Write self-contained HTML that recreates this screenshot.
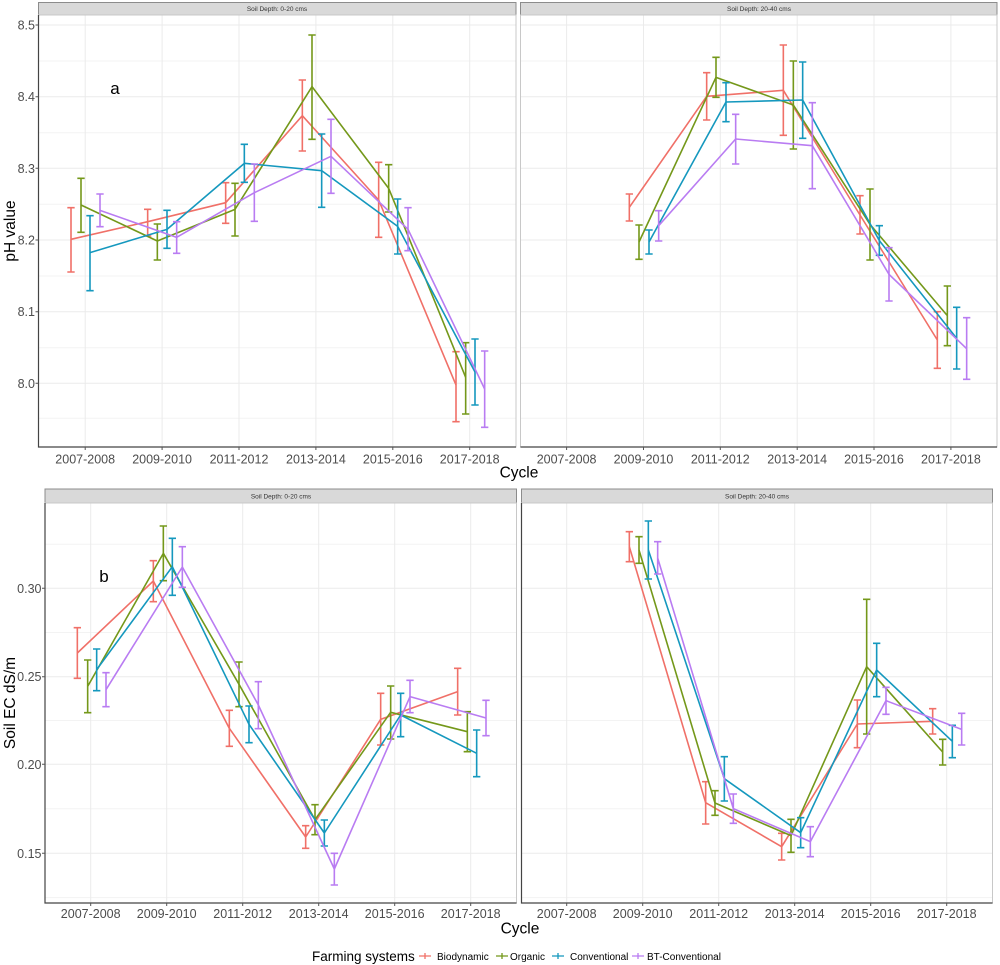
<!DOCTYPE html>
<html>
<head>
<meta charset="utf-8">
<style>
  html, body { margin:0; padding:0; background:#fff; }
  svg { display:block; }
  text { font-family: "Liberation Sans", "DejaVu Sans", sans-serif; }
</style>
</head>
<body>
<svg width="1000" height="965" viewBox="0 0 1000 965" xmlns="http://www.w3.org/2000/svg">
<rect x="0" y="0" width="1000" height="965" fill="#fff"/>

<!-- ================= TOP ROW ================= -->
<rect x="38.5" y="2.5" width="477.5" height="12.5" fill="#d9d9d9" stroke="#8c8c8c" stroke-width="1"/>
<rect x="520.5" y="2.5" width="476.5" height="12.5" fill="#d9d9d9" stroke="#8c8c8c" stroke-width="1"/>
<text x="277" y="11" font-size="6.5" fill="#333" text-anchor="middle">Soil Depth: 0-20 cms</text>
<text x="759" y="11" font-size="6.5" fill="#333" text-anchor="middle">Soil Depth: 20-40 cms</text>

<g stroke="#f3f3f3" stroke-width="1">
  <path d="M38.5 61H516M38.5 132.7H516M38.5 204.3H516M38.5 276H516M38.5 347.7H516M38.5 418.3H516"/>
  <path d="M520.5 61H997M520.5 132.7H997M520.5 204.3H997M520.5 276H997M520.5 347.7H997M520.5 418.3H997"/>
</g>
<g stroke="#ebebeb" stroke-width="1">
  <path d="M38.5 25H516M38.5 96.7H516M38.5 168.3H516M38.5 240H516M38.5 311.7H516M38.5 383.3H516"/>
  <path d="M520.5 25H997M520.5 96.7H997M520.5 168.3H997M520.5 240H997M520.5 311.7H997M520.5 383.3H997"/>
  <path d="M85.2 15V447M162.1 15V447M239 15V447M315.9 15V447M392.8 15V447M469.7 15V447"/>
  <path d="M566.6 15V447M643.5 15V447M720.3 15V447M797.2 15V447M874 15V447M950.9 15V447"/>
</g>
<rect x="38.5" y="15" width="477.5" height="432" fill="none" stroke="#c8c8c8" stroke-width="1"/>
<rect x="520.5" y="15" width="476.5" height="432" fill="none" stroke="#c8c8c8" stroke-width="1"/>
<path d="M38.5 15V447H516" fill="none" stroke="#444" stroke-width="1.2"/>
<path d="M520.5 447H997" fill="none" stroke="#444" stroke-width="1.2"/>

<g stroke="#555" stroke-width="1">
  <path d="M35.5 25H38.5M35.5 96.7H38.5M35.5 168.3H38.5M35.5 240H38.5M35.5 311.7H38.5M35.5 383.3H38.5"/>
  <path d="M85.2 447V450M162.1 447V450M239 447V450M315.9 447V450M392.8 447V450M469.7 447V450"/>
  <path d="M566.6 447V450M643.5 447V450M720.3 447V450M797.2 447V450M874 447V450M950.9 447V450"/>
</g>
<g font-size="12.5" fill="#4d4d4d" text-anchor="end">
  <text x="35" y="29.5">8.5</text>
  <text x="35" y="101.2">8.4</text>
  <text x="35" y="172.8">8.3</text>
  <text x="35" y="244.5">8.2</text>
  <text x="35" y="316.2">8.1</text>
  <text x="35" y="387.8">8.0</text>
</g>
<g font-size="12.5" fill="#4d4d4d" text-anchor="middle">
  <text x="85.2" y="463.5">2007-2008</text>
  <text x="162.1" y="463.5">2009-2010</text>
  <text x="239" y="463.5">2011-2012</text>
  <text x="315.9" y="463.5">2013-2014</text>
  <text x="392.8" y="463.5">2015-2016</text>
  <text x="469.7" y="463.5">2017-2018</text>
  <text x="566.6" y="463.5">2007-2008</text>
  <text x="643.5" y="463.5">2009-2010</text>
  <text x="720.3" y="463.5">2011-2012</text>
  <text x="797.2" y="463.5">2013-2014</text>
  <text x="874" y="463.5">2015-2016</text>
  <text x="950.9" y="463.5">2017-2018</text>
</g>
<text x="519" y="477.5" font-size="15.5" fill="#000" text-anchor="middle">Cycle</text>
<text transform="translate(15,231) rotate(-90)" font-size="15.5" fill="#000" text-anchor="middle">pH value</text>
<text x="115" y="94" font-size="17" fill="#000" text-anchor="middle">a</text>

<g transform="translate(40,20) scale(0.333333)" fill="none" stroke-width="4.8" stroke-linejoin="round">
  <g stroke="#F07068">
    <polyline points="93,658 323,605 557,548 787,287 1016,540 1248,1095"/>
    <path d="M82 563H104M93 563V756M82 756H104M312 568H334M323 568V648M312 648H334M546 488H568M557 488V610M546 610H568M776 180H798M787 180V393M776 393H798M1005 427H1027M1016 427V652M1005 652H1027M1237 995H1259M1248 995V1205M1237 1205H1259"/>
  </g>
  <g stroke="#74981A">
    <polyline points="123,555 352,663 585,568 816,200 1046,505 1277,1072"/>
    <path d="M112 475H134M123 475V637M112 637H134M341 612H363M352 612V720M341 720H363M574 490H596M585 490V648M574 648H596M805 45H827M816 45V358M805 358H827M1035 434H1057M1046 434V576M1035 576H1057M1266 968H1288M1277 968V1182M1266 1182H1288"/>
  </g>
  <g stroke="#1598BE">
    <polyline points="150,698 381,628 613,430 845,452 1073,619 1305,1056"/>
    <path d="M139 587H161M150 587V812M139 812H161M370 571H392M381 571V685M370 685H392M602 373H624M613 373V487M602 487H624M834 342H856M845 342V562M834 562H856M1062 537H1084M1073 537V702M1062 702H1084M1294 957H1316M1305 957V1155M1294 1155H1316"/>
  </g>
  <g stroke="#B97CF2">
    <polyline points="180,571 410,652 643,518 873,409 1104,628 1334,1107"/>
    <path d="M169 522H191M180 522V620M169 620H191M399 605H421M410 605V700M399 700H421M632 432H654M643 432V604M632 604H654M862 298H884M873 298V520M862 520H884M1093 563H1115M1104 563V692M1093 692H1115M1323 993H1345M1334 993V1222M1323 1222H1345"/>
  </g>
</g>

<g transform="translate(520,20) scale(0.333333)" fill="none" stroke-width="4.8" stroke-linejoin="round">
  <g stroke="#F07068">
    <polyline points="328,562 560,229 790,211 1020,585 1252,960"/>
    <path d="M317 522H339M328 522V603M317 603H339M549 158H571M560 158V300M549 300H571M779 75H801M790 75V346M779 346H801M1009 527H1031M1020 527V642M1009 642H1031M1241 875H1263M1252 875V1045M1241 1045H1263"/>
  </g>
  <g stroke="#74981A">
    <polyline points="357,666 588,172 820,255 1050,613 1282,887"/>
    <path d="M346 615H368M357 615V718M346 718H368M577 112H599M588 112V232M577 232H599M809 123H831M820 123V387M809 387H831M1039 507H1061M1050 507V720M1039 720H1061M1271 798H1293M1282 798V977M1271 977H1293"/>
  </g>
  <g stroke="#1598BE">
    <polyline points="387,666 618,246 848,240 1078,662 1310,955"/>
    <path d="M376 630H398M387 630V702M376 702H398M607 188H629M618 188V305M607 305H629M837 126H859M848 126V355M837 355H859M1067 617H1089M1078 617V706M1067 706H1089M1299 862H1321M1310 862V1047M1299 1047H1321"/>
  </g>
  <g stroke="#B97CF2">
    <polyline points="416,617 647,357 877,377 1107,763 1340,986"/>
    <path d="M405 572H427M416 572V663M405 663H427M636 283H658M647 283V432M636 432H658M866 248H888M877 248V506M866 506H888M1096 683H1118M1107 683V843M1096 843H1118M1329 893H1351M1340 893V1078M1329 1078H1351"/>
  </g>
</g>

<!-- ================= BOTTOM ROW ================= -->
<rect x="45" y="489" width="471.5" height="14" fill="#d9d9d9" stroke="#8c8c8c" stroke-width="1"/>
<rect x="521.5" y="489" width="471" height="14" fill="#d9d9d9" stroke="#8c8c8c" stroke-width="1"/>
<text x="281" y="498.5" font-size="6.5" fill="#333" text-anchor="middle">Soil Depth: 0-20 cms</text>
<text x="757" y="498.5" font-size="6.5" fill="#333" text-anchor="middle">Soil Depth: 20-40 cms</text>

<g stroke="#f3f3f3" stroke-width="1">
  <path d="M45 544.2H516.5M45 632.5H516.5M45 720.5H516.5M45 808.8H516.5M45 897.6H516.5"/>
  <path d="M521.5 544.2H992.5M521.5 632.5H992.5M521.5 720.5H992.5M521.5 808.8H992.5M521.5 897.6H992.5"/>
</g>
<g stroke="#ebebeb" stroke-width="1">
  <path d="M45 588.3H516.5M45 676.7H516.5M45 764.3H516.5M45 853.3H516.5"/>
  <path d="M521.5 588.3H992.5M521.5 676.7H992.5M521.5 764.3H992.5M521.5 853.3H992.5"/>
  <path d="M90.7 503V903M166.7 503V903M242.7 503V903M318.7 503V903M394.7 503V903M470.7 503V903"/>
  <path d="M566.7 503V903M642.7 503V903M718.7 503V903M794.7 503V903M870.7 503V903M946.7 503V903"/>
</g>
<rect x="45" y="503" width="471.5" height="400" fill="none" stroke="#c8c8c8" stroke-width="1"/>
<rect x="521.5" y="503" width="471" height="400" fill="none" stroke="#c8c8c8" stroke-width="1"/>
<path d="M45 503V903H516.5" fill="none" stroke="#444" stroke-width="1.2"/>
<path d="M521.5 503V903H992.5" fill="none" stroke="#444" stroke-width="1.2"/>

<g stroke="#555" stroke-width="1">
  <path d="M42 588.3H45M42 676.7H45M42 764.3H45M42 853.3H45"/>
  <path d="M90.7 903V906M166.7 903V906M242.7 903V906M318.7 903V906M394.7 903V906M470.7 903V906"/>
  <path d="M566.7 903V906M642.7 903V906M718.7 903V906M794.7 903V906M870.7 903V906M946.7 903V906"/>
</g>
<g font-size="12.5" fill="#4d4d4d" text-anchor="end">
  <text x="41.5" y="592.8">0.30</text>
  <text x="41.5" y="681.2">0.25</text>
  <text x="41.5" y="768.8">0.20</text>
  <text x="41.5" y="857.8">0.15</text>
</g>
<g font-size="12.5" fill="#4d4d4d" text-anchor="middle">
  <text x="90.7" y="918">2007-2008</text>
  <text x="166.7" y="918">2009-2010</text>
  <text x="242.7" y="918">2011-2012</text>
  <text x="318.7" y="918">2013-2014</text>
  <text x="394.7" y="918">2015-2016</text>
  <text x="470.7" y="918">2017-2018</text>
  <text x="566.7" y="918">2007-2008</text>
  <text x="642.7" y="918">2009-2010</text>
  <text x="718.7" y="918">2011-2012</text>
  <text x="794.7" y="918">2013-2014</text>
  <text x="870.7" y="918">2015-2016</text>
  <text x="946.7" y="918">2017-2018</text>
</g>
<text x="520" y="933.5" font-size="15.5" fill="#000" text-anchor="middle">Cycle</text>
<text transform="translate(15,703) rotate(-90)" font-size="15.5" fill="#000" text-anchor="middle">Soil EC dS/m</text>
<text x="104" y="582" font-size="17" fill="#000" text-anchor="middle">b</text>

<g transform="translate(40,500) scale(0.333333)" fill="none" stroke-width="4.8" stroke-linejoin="round">
  <g stroke="#F07068">
    <polyline points="112,459 340,243 568,685 797,1011 1022,658 1253,575"/>
    <path d="M101 383H123M112 383V535M101 535H123M329 182H351M340 182V305M329 305H351M557 631H579M568 631V739M557 739H579M786 977H808M797 977V1045M786 1045H808M1011 580H1033M1022 580V735M1011 735H1033M1242 505H1264M1253 505V645M1242 645H1264"/>
  </g>
  <g stroke="#74981A">
    <polyline points="143,559 370,160 597,553 825,959 1052,637 1282,695"/>
    <path d="M132 480H154M143 480V638M132 638H154M359 78H381M370 78V242M359 242H381M586 486H608M597 486V620M586 620H608M814 914H836M825 914V1004M814 1004H836M1041 558H1063M1052 558V717M1041 717H1063M1271 635H1293M1282 635V755M1271 755H1293"/>
  </g>
  <g stroke="#1598BE">
    <polyline points="170,509 397,200 627,673 853,999 1082,645 1310,760"/>
    <path d="M159 447H181M170 447V572M159 572H181M386 115H408M397 115V286M386 286H408M616 618H638M627 618V728M616 728H638M842 960H864M853 960V1038M842 1038H864M1071 580H1093M1082 580V710M1071 710H1093M1299 690H1321M1310 690V830M1299 830H1321"/>
  </g>
  <g stroke="#B97CF2">
    <polyline points="198,569 427,201 655,615 883,1107 1110,590 1338,654"/>
    <path d="M187 518H209M198 518V620M187 620H209M416 140H438M427 140V262M416 262H438M644 545H666M655 545V686M644 686H666M872 1060H894M883 1060V1155M872 1155H894M1099 541H1121M1110 541V638M1099 638H1121M1327 601H1349M1338 601V707M1327 707H1349"/>
  </g>
</g>

<g transform="translate(520,500) scale(0.333333)" fill="none" stroke-width="4.8" stroke-linejoin="round">
  <g stroke="#F07068">
    <polyline points="328,140 557,908 785,1040 1012,672 1238,664"/>
    <path d="M317 95H339M328 95V185M317 185H339M546 845H568M557 845V972M546 972H568M774 1000H796M785 1000V1080M774 1080H796M1001 600H1023M1012 600V743M1001 743H1023M1227 626H1249M1238 626V702M1227 702H1249"/>
  </g>
  <g stroke="#74981A">
    <polyline points="357,150 585,909 813,1007 1040,500 1268,756"/>
    <path d="M346 110H368M357 110V190M346 190H368M574 872H596M585 872V946M574 946H596M802 958H824M813 958V1057M802 1057H824M1029 298H1051M1040 298V702M1029 702H1051M1257 718H1279M1268 718V795M1257 795H1279"/>
  </g>
  <g stroke="#1598BE">
    <polyline points="385,150 613,836 842,998 1070,510 1297,724"/>
    <path d="M374 63H396M385 63V237M374 237H396M602 770H624M613 770V903M602 903H624M831 953H853M842 953V1043M831 1043H853M1059 430H1081M1070 430V590M1059 590H1081M1286 676H1308M1297 676V773M1286 773H1308"/>
  </g>
  <g stroke="#B97CF2">
    <polyline points="413,174 640,926 871,1025 1098,602 1325,688"/>
    <path d="M402 125H424M413 125V222M402 222H424M629 882H651M640 882V970M629 970H651M860 980H882M871 980V1070M860 1070H882M1087 562H1109M1098 562V643M1087 643H1109M1314 640H1336M1325 640V735M1314 735H1336"/>
  </g>
</g>

<!-- ================= LEGEND ================= -->
<text x="312" y="961" font-size="13.5" fill="#000">Farming systems</text>
<g stroke-width="1.3" fill="none">
  <path d="M419 956H431M425 953V959" stroke="#F07068"/>
  <path d="M496 956H508M502 953V959" stroke="#74981A"/>
  <path d="M552 956H564M558 953V959" stroke="#1598BE"/>
  <path d="M632 956H644M638 953V959" stroke="#B97CF2"/>
</g>
<g font-size="10" fill="#000">
  <text x="437" y="960">Biodynamic</text>
  <text x="510" y="960">Organic</text>
  <text x="570" y="960">Conventional</text>
  <text x="647" y="960">BT-Conventional</text>
</g>
</svg>
</body>
</html>
